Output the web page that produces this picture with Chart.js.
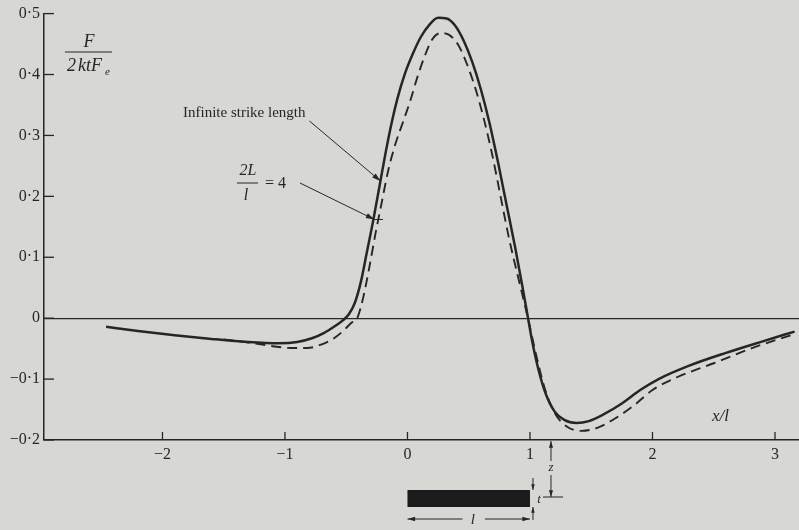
<!DOCTYPE html>
<html>
<head>
<meta charset="utf-8">
<script src="https://cdn.jsdelivr.net/npm/chart.js@4.4.0/dist/chart.umd.min.js"></script>
<style>
html,body{margin:0;padding:0;background:#d7d7d3;}
#wrap{width:799px;height:530px;position:relative;}
</style>
</head>
<body>
<div id="wrap"><canvas id="c" width="799" height="530"></canvas></div>
<script>
// ---- data ----
const solidX = [-2.46,-2.2,-1.9,-1.6,-1.3,-1.05,-0.9,-0.78,-0.68,-0.6,-0.53,-0.48,-0.43,-0.38,-0.33,-0.28,-0.23,-0.18,-0.13,-0.08,-0.02,0.05,0.11,0.18,0.25,0.32,0.39,0.46,0.53,0.6,0.67,0.74,0.81,0.88,0.94,0.98,1.02,1.07,1.13,1.2,1.28,1.38,1.48,1.6,1.75,1.9,2.05,2.3,2.6,2.9,3.16];
const solidY = [-0.014,-0.021,-0.028,-0.034,-0.039,-0.041,-0.039,-0.033,-0.024,-0.014,-0.004,0.006,0.025,0.06,0.11,0.16,0.215,0.27,0.32,0.362,0.402,0.437,0.462,0.482,0.493,0.492,0.48,0.455,0.42,0.375,0.32,0.255,0.185,0.115,0.05,0.005,-0.04,-0.085,-0.125,-0.153,-0.167,-0.172,-0.169,-0.158,-0.14,-0.118,-0.1,-0.078,-0.057,-0.038,-0.022];
const dashX = [-1.5,-1.3,-1.1,-0.95,-0.82,-0.7,-0.6,-0.52,-0.46,-0.41,-0.36,-0.31,-0.26,-0.21,-0.16,-0.1,-0.04,0.02,0.08,0.14,0.2,0.27,0.34,0.41,0.48,0.55,0.62,0.69,0.76,0.83,0.9,0.96,1.0,1.05,1.12,1.2,1.3,1.42,1.55,1.7,1.85,2.0,2.2,2.5,2.8,3.16];
const dashY = [-0.035,-0.04,-0.046,-0.049,-0.049,-0.043,-0.033,-0.02,-0.008,0.0,0.035,0.085,0.14,0.19,0.24,0.285,0.32,0.355,0.395,0.43,0.457,0.468,0.465,0.45,0.42,0.38,0.33,0.27,0.2,0.13,0.07,0.02,-0.015,-0.06,-0.115,-0.155,-0.178,-0.185,-0.18,-0.164,-0.143,-0.118,-0.097,-0.074,-0.05,-0.026];
const xTicks = [-2,-1,0,1,2,3];
const yTicks = [-0.2,-0.1,0,0.1,0.2,0.3,0.4,0.5];

const INK = '#262626';
const fmtY = v => {
  const a = Math.abs(v);
  const s = a === 0 ? '0' : a.toFixed(1).replace('.', '\u00b7');
  return (v < 0 ? '\u2212' : '') + s;
};
const fmtX = v => (v < 0 ? '\u2212' : '') + Math.abs(v);

const pts = (xs, ys) => xs.map((x, i) => ({x, y: ys[i]}));

function arrowHead(ctx, x1, y1, x2, y2, size) {
  const a = Math.atan2(y2 - y1, x2 - x1);
  ctx.beginPath();
  ctx.moveTo(x2, y2);
  ctx.lineTo(x2 - size * Math.cos(a - 0.3), y2 - size * Math.sin(a - 0.3));
  ctx.lineTo(x2 - size * Math.cos(a + 0.3), y2 - size * Math.sin(a + 0.3));
  ctx.closePath();
  ctx.fill();
}
function arrow(ctx, x1, y1, x2, y2, size) {
  ctx.beginPath(); ctx.moveTo(x1, y1); ctx.lineTo(x2, y2); ctx.stroke();
  arrowHead(ctx, x1, y1, x2, y2, size);
}

const decor = {
  id: 'decor',
  afterDraw(chart) {
    const ctx = chart.ctx;
    const xs = chart.scales.x, ys = chart.scales.y;
    const area = chart.chartArea;
    ctx.save();
    ctx.strokeStyle = INK; ctx.fillStyle = INK; ctx.lineWidth = 1.3;
    // inward tick marks
    yTicks.forEach(v => {
      const p = ys.getPixelForValue(v);
      ctx.beginPath(); ctx.moveTo(area.left, p); ctx.lineTo(area.left + 10, p); ctx.stroke();
    });
    xTicks.forEach(v => {
      const p = xs.getPixelForValue(v);
      ctx.beginPath(); ctx.moveTo(p, area.bottom); ctx.lineTo(p, area.bottom - 8); ctx.stroke();
    });

    // y-axis title F / 2ktFe
    ctx.font = 'italic 18px "Liberation Serif"';
    ctx.textAlign = 'center'; ctx.textBaseline = 'alphabetic';
    ctx.fillText('F', 89, 47);
    ctx.lineWidth = 1;
    ctx.beginPath(); ctx.moveTo(65, 52); ctx.lineTo(112, 52); ctx.stroke();
    ctx.textAlign = 'left';
    ctx.fillText('2', 67, 71);
    ctx.fillText('ktF', 78, 71);
    ctx.font = 'italic 11px "Liberation Serif"';
    ctx.fillText('e', 105, 75);

    // x/l label
    ctx.font = 'italic 17px "Liberation Serif"';
    ctx.textAlign = 'left';
    ctx.fillText('x/l', 712, 421);

    // "Infinite strike length" annotation
    ctx.font = '15px "Liberation Serif"';
    ctx.fillText('Infinite strike length', 183, 117);
    const tw = ctx.measureText('Infinite strike length').width;
    ctx.lineWidth = 1;
    arrow(ctx, 183 + tw + 4, 121, xs.getPixelForValue(-0.22), ys.getPixelForValue(0.225), 9);

    // 2L/l = 4 annotation
    ctx.font = 'italic 16px "Liberation Serif"';
    ctx.textAlign = 'center';
    ctx.fillText('2L', 248, 175);
    ctx.beginPath(); ctx.moveTo(237, 183); ctx.lineTo(258, 183); ctx.stroke();
    ctx.fillText('l', 246, 200);
    ctx.font = '16px "Liberation Serif"';
    ctx.textAlign = 'left';
    ctx.fillText('= 4', 265, 188);
    arrow(ctx, 300, 183, xs.getPixelForValue(-0.27), ys.getPixelForValue(0.162), 9);
    ctx.beginPath();
    ctx.moveTo(xs.getPixelForValue(-0.27), ys.getPixelForValue(0.162));
    ctx.lineTo(xs.getPixelForValue(-0.2), ys.getPixelForValue(0.162));
    ctx.stroke();

    // source strip under the axis, spanning x/l 0..1
    const b0 = xs.getPixelForValue(0), b1 = xs.getPixelForValue(1);
    const barTop = 490, barBot = 507, barMid = 497;
    ctx.fillStyle = '#1b1b1b';
    ctx.fillRect(b0, barTop, b1 - b0, barBot - barTop);
    ctx.fillStyle = INK;
    ctx.lineWidth = 1;
    // l dimension
    arrow(ctx, b0 + 55, 519, b0, 519, 8);
    arrow(ctx, b1 - 45, 519, b1, 519, 8);
    ctx.font = 'italic 15px "Liberation Serif"';
    ctx.textAlign = 'center';
    ctx.fillText('l', (b0 + b1) / 2 + 4, 524);
    // t dimension
    const tx = b1 + 3;
    arrow(ctx, tx, barTop - 12, tx, barTop, 6);
    arrow(ctx, tx, barBot + 13, tx, barBot, 6);
    ctx.font = 'italic 13px "Liberation Serif"';
    ctx.fillText('t', tx + 6, 503);
    // z dimension (axis to strip centre)
    const zx = b1 + 21;
    ctx.beginPath(); ctx.moveTo(zx - 8, barMid); ctx.lineTo(zx + 12, barMid); ctx.stroke();
    arrow(ctx, zx, 461, zx, area.bottom + 1, 7);
    arrow(ctx, zx, 475, zx, barMid, 7);
    ctx.fillText('z', zx, 471);
    ctx.restore();
  }
};

new Chart(document.getElementById('c'), {
  type: 'line',
  data: {
    datasets: [
      {label: 'Infinite strike length', data: pts(solidX, solidY), borderColor: INK, borderWidth: 2.5,
       pointRadius: 0, cubicInterpolationMode: 'monotone', fill: false},
      {label: '2L/l = 4', data: pts(dashX, dashY), borderColor: INK, borderWidth: 1.9, borderDash: [10, 6],
       pointRadius: 0, cubicInterpolationMode: 'monotone', fill: false}
    ]
  },
  options: {
    responsive: false, animation: false, devicePixelRatio: 1,
    layout: {padding: {top: 11, right: 0, left: 0, bottom: 0}},
    plugins: {legend: {display: false}, tooltip: {enabled: false}},
    scales: {
      x: {
        type: 'linear', min: -2.967, max: 3.196,
        afterBuildTicks: s => { s.ticks = xTicks.map(v => ({value: v})); },
        afterFit: s => { s.height = 90; },
        border: {display: true, color: INK, width: 1.5},
        grid: {display: false, drawTicks: false},
        ticks: {color: INK, font: {family: '"Liberation Serif"', size: 16}, padding: 5, maxRotation: 0,
                callback: v => fmtX(v)}
      },
      y: {
        type: 'linear', min: -0.2, max: 0.5,
        afterBuildTicks: s => { s.ticks = yTicks.map(v => ({value: v})); },
        afterFit: s => { s.width = 44; },
        border: {display: true, color: INK, width: 1.5},
        grid: {drawTicks: false, lineWidth: 1.2,
               color: c => (c.tick && Math.abs(c.tick.value) < 1e-9) ? INK : 'rgba(0,0,0,0)'},
        ticks: {color: INK, font: {family: '"Liberation Serif"', size: 16}, padding: 4,
                callback: v => fmtY(v)}
      }
    }
  },
  plugins: [decor]
});
</script>
</body>
</html>
